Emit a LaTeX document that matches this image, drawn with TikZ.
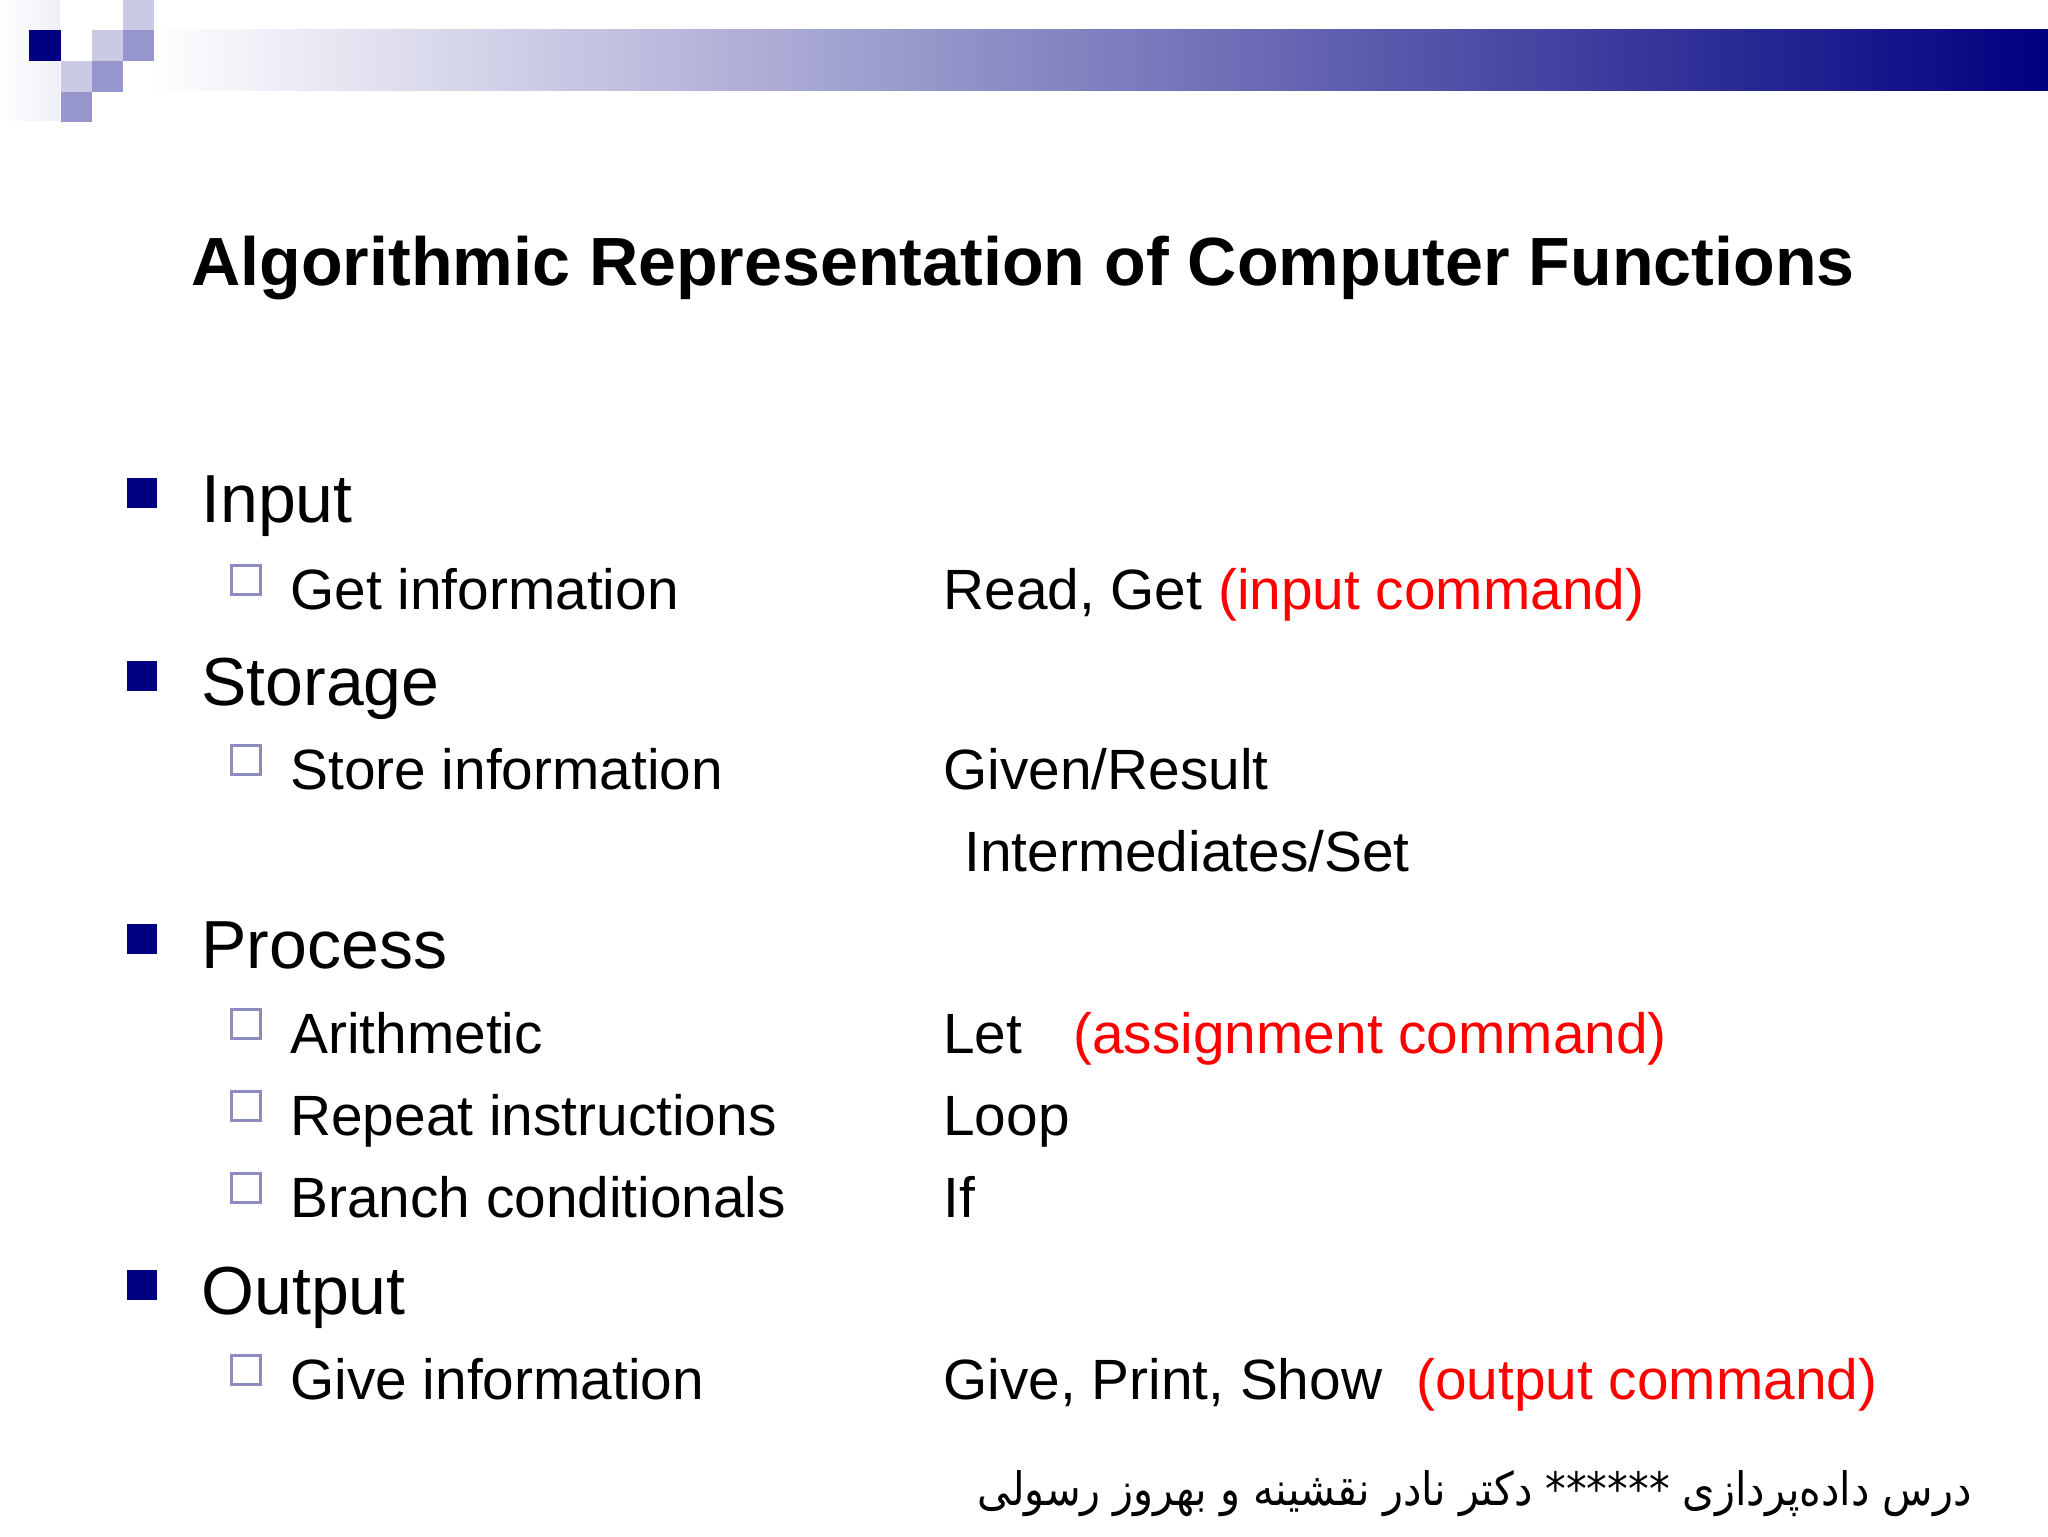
\documentclass[tikz,border=0pt]{standalone}
\usepackage{fontspec}
\setmainfont{Liberation Sans}
\newfontfamily\arabicfont[Script=Arabic]{DejaVu Sans Condensed}
\TeXXeTstate=1
\definecolor{navy}{RGB}{0,0,128}
\definecolor{lav}{RGB}{202,202,228}
\definecolor{lavm}{RGB}{150,150,204}
\definecolor{hol}{RGB}{140,140,190}
\tikzset{
 lone/.style={anchor=base west,inner sep=0pt,font=\fontsize{34}{40}\selectfont},
 ltwo/.style={anchor=base west,inner sep=0pt,font=\fontsize{28.4}{34}\selectfont}
}
\begin{document}
\begin{tikzpicture}[x=0.5pt,y=-0.5pt]
\useasboundingbox (0,0) rectangle (2048,1536);
\fill[white] (0,0) rectangle (2048,1536);
% top decoration
\shade[left color=white,right color=white!85!lavm] (0,0) rectangle (60,120);
\shade[left color=white,right color=navy] (150,30) rectangle (2048,91);
\fill[lav] (123,0) rectangle (154,30);
\fill[lav] (92,30) rectangle (123,61);
\fill[lavm] (123,30) rectangle (154,61);
\fill[lav] (61,61) rectangle (92,92);
\fill[lavm] (92,61) rectangle (123,92);
\fill[lavm] (61,92) rectangle (92,122);
\fill[navy] (29,30) rectangle (61,61);
% title
\node[anchor=base,inner sep=0pt,font=\bfseries\fontsize{34.1}{40}\selectfont] (title) at (1023,285) {Algorithmic Representation of Computer Functions};
% level 1
\foreach \n/\y/\t in {a/522/Input,b/705/Storage,c/968/Process,d/1314/Output}{
 \fill[navy] (127,\y-44) rectangle (157,\y-14);
 \node[lone] (l\n) at (201,\y) {\t};
}
% level 2
\foreach \n/\y/\t in {a/609/Get information,b/789/Store information,c/1053/Arithmetic,d/1135/Repeat instructions,e/1217/Branch conditionals,f/1399/Give information}{
 \draw[hol,line width=1.5pt] (231.5,\y-43.5) rectangle (260.5,\y-14.5);
 \node[ltwo] (s\n) at (290,\y) {\t};
}
% right column
\node[ltwo] (ra) at (943,609) {Read, Get \textcolor{red}{(input command)}};
\node[ltwo] (rb) at (943,789) {Given/Result};
\node[ltwo] (rb2) at (964,871) {Intermediates/Set};
\node[ltwo] (rc) at (943,1053) {Let\hspace{0.9em}\textcolor{red}{(assignment command)}};
\node[ltwo] (rd) at (943,1135) {Loop};
\node[ltwo] (re) at (943,1217) {If};
\node[ltwo] (rf) at (943,1399) {Give, Print, Show\hspace{0.6em}\textcolor{red}{(output command)}};
% footer
\node[anchor=base east,inner sep=0pt,font=\arabicfont\fontsize{23}{28}\selectfont] (foot) at (1972,1505) {\beginR درس داده‌پردازی \beginL******\endL{} دکتر نادر نقشینه و بهروز رسولی\endR};
\end{tikzpicture}
\end{document}
